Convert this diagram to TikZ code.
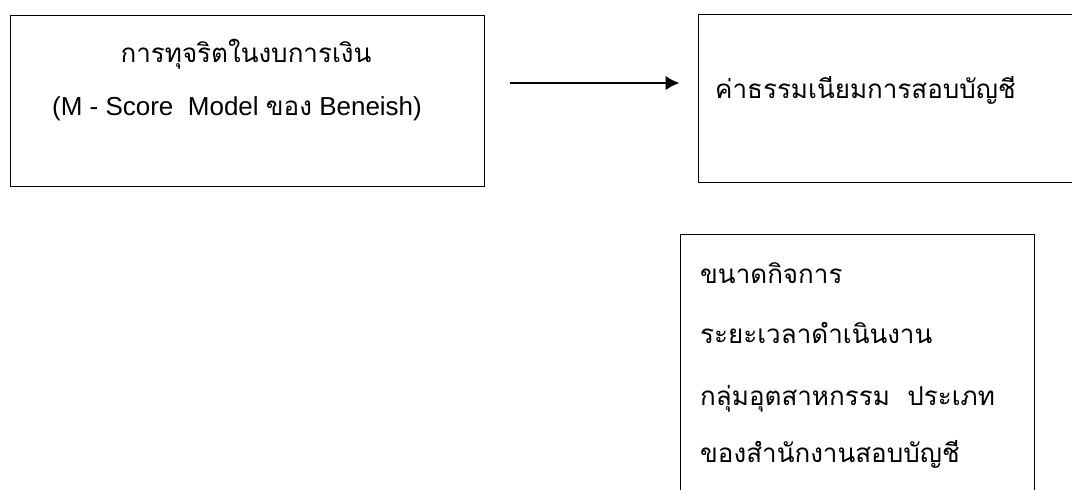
\documentclass[tikz,border=0pt]{standalone}
\usepackage{fontspec}
\setmainfont{Liberation Sans}
\newfontfamily\thaifont[Script=Thai]{Loma}
\usetikzlibrary{arrows.meta}
\begin{document}
\begin{tikzpicture}[x=1pt,y=1pt,
  boxstyle/.style={draw, line width=1pt, rectangle, inner sep=0pt},
  txt/.style={inner sep=0pt, font=\fontsize{26}{30}\selectfont},
  arr/.style={line width=2.6pt, -{Latex[length=14pt,width=15pt]}}]
\useasboundingbox (0,0) rectangle (1072,-490);
\fill[white] (0,0) rectangle (1072,-490);
\node[boxstyle, minimum width=474pt, minimum height=171pt] (box1) at (247,-100.5) {};
\node[boxstyle, minimum width=402pt, minimum height=168pt] (box2) at (899,-98) {};
\node[boxstyle, minimum width=354pt, minimum height=276pt] (box3) at (857,-372) {};
\node[txt, anchor=base] (t1a) at (246,-62) {\thaifont การทุจริตในงบการเงิน};
\node[txt, anchor=base] (t1b) at (237,-115) {(M - Score\ \ Model {\thaifont ของ} Beneish)};
\node[txt, anchor=base west] (t2) at (715,-98) {\thaifont ค่าธรรมเนียมการสอบบัญชี};
\node[txt, anchor=base west] (t3a) at (700,-283) {\thaifont ขนาดกิจการ};
\node[txt, anchor=base west] (t3b) at (700,-343) {\thaifont ระยะเวลาดำเนินงาน};
\node[txt, anchor=base west] (t3c) at (700,-405) {\thaifont กลุ่มอุตสาหกรรม\ \ ประเภท};
\node[txt, anchor=base west] (t3d) at (700,-462) {\thaifont ของสำนักงานสอบบัญชี};
\draw[arr, shorten <=25pt, shorten >=18pt] (box1.east |- 0,-83) -- (box2.west |- 0,-83);
\end{tikzpicture}
\end{document}
